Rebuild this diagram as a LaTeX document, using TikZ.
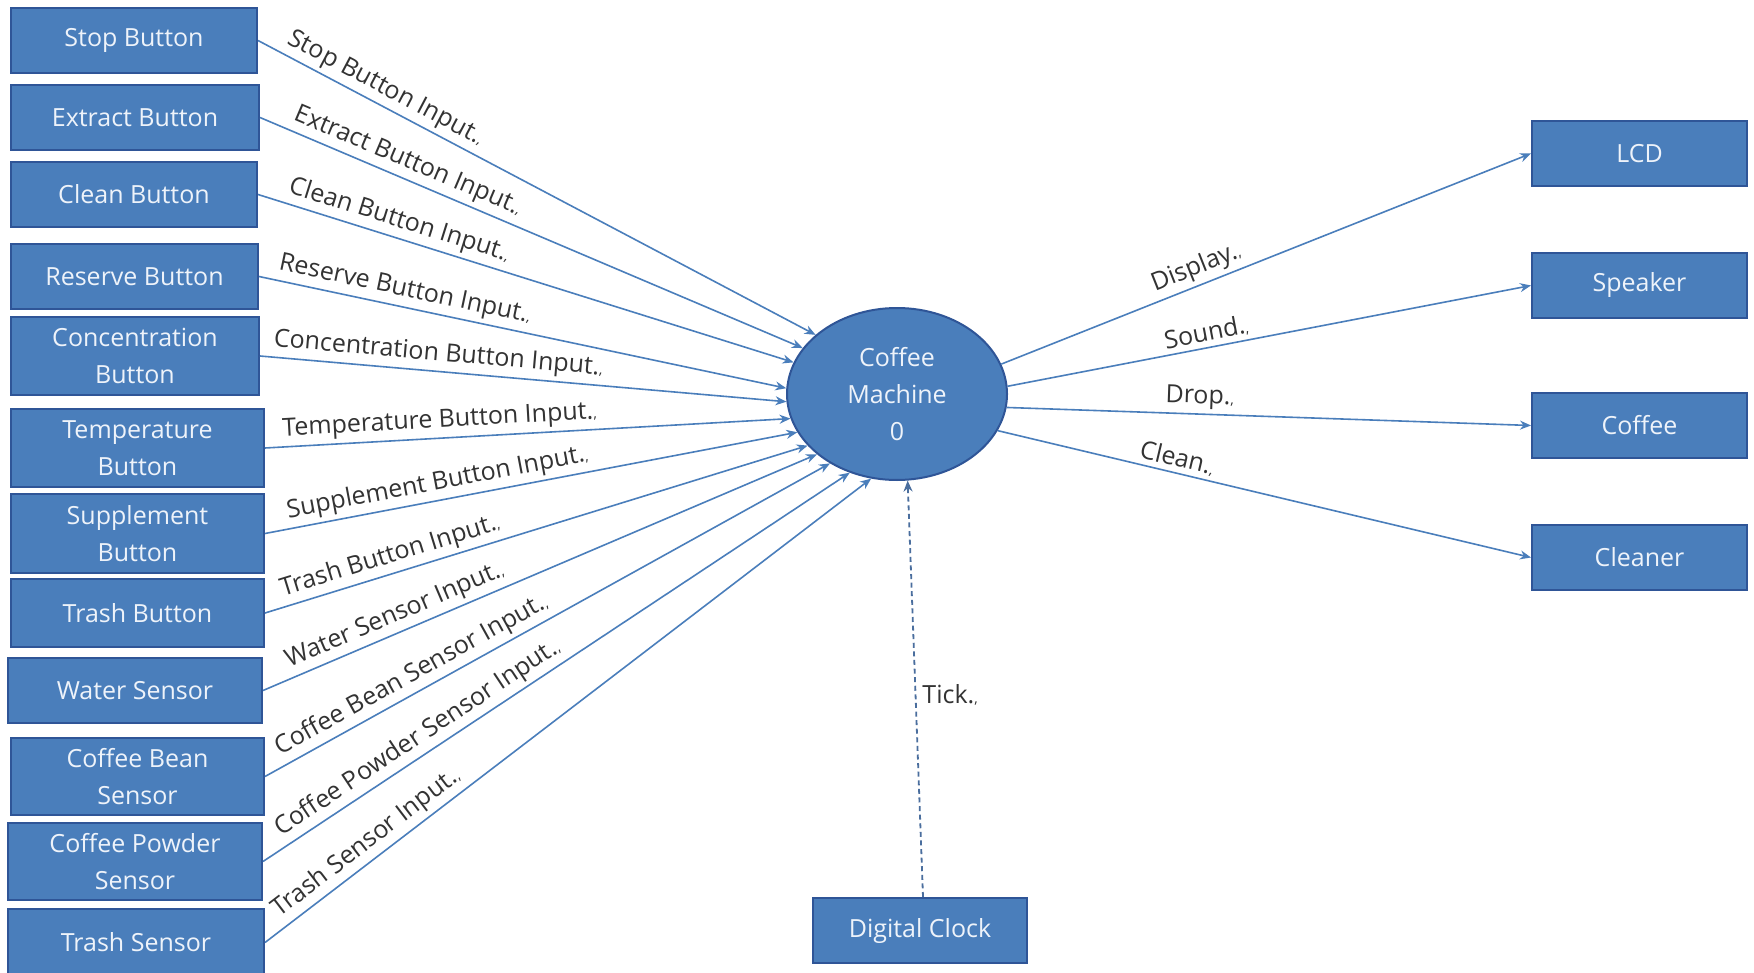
\documentclass[tikz,border=0pt]{standalone}
\usepackage{fontspec}
\setmainfont{Open Sans}
\usetikzlibrary{shapes.geometric, arrows.meta}
\definecolor{boxfill}{HTML}{4A7EBB}
\definecolor{boxline}{HTML}{2F5597}
\definecolor{flow}{HTML}{4A7EBB}
\definecolor{lbl}{HTML}{333333}
\definecolor{boxtext}{HTML}{EEF3FA}
\definecolor{tickline}{HTML}{4A6E9E}
\newcommand\pmk{{\fontsize{7}{7}\selectfont ,}}
\begin{document}
\begin{tikzpicture}[x=0.5pt, y=-0.5pt,
  ent/.style={draw=boxline, line width=1pt, fill=boxfill, text=boxtext, inner sep=0pt,
    align=center, font=\fontsize{12.5}{18.5}\selectfont},
  flowline/.style={draw=flow, line width=0.8pt, -{Stealth[length=5.5pt,width=4.5pt]}},
  flowlbl/.style={text=lbl, font=\fontsize{12.5}{15}\selectfont, inner sep=2pt},
]
\clip (0,0) rectangle (1754,973);
\fill[white] (0,0) rectangle (1754,973);

% left boxes
\node[ent, minimum width=123pt, minimum height=32.5pt] (stop) at (134,40.5) {Stop Button};
\node[ent, minimum width=124pt, minimum height=32.5pt] (extract) at (135,117.5) {Extract Button};
\node[ent, minimum width=123pt, minimum height=32.5pt] (clean) at (134,194.5) {Clean Button};
\node[ent, minimum width=123.5pt, minimum height=32.5pt] (reserve) at (134.5,276.5) {Reserve Button};
\node[ent, minimum width=124pt, minimum height=39pt] (conc) at (135,356) {Concentration\\Button};
\node[ent, minimum width=126.5pt, minimum height=39pt] (temp) at (137.5,448) {Temperature\\Button};
\node[ent, minimum width=126.5pt, minimum height=39.5pt] (supp) at (137.5,533.5) {Supplement\\Button};
\node[ent, minimum width=126.5pt, minimum height=34pt] (trashb) at (137.5,613) {Trash Button};
\node[ent, minimum width=127pt, minimum height=32.5pt] (water) at (135,690.5) {Water Sensor};
\node[ent, minimum width=126.5pt, minimum height=38.5pt] (bean) at (137.5,776.5) {Coffee Bean\\Sensor};
\node[ent, minimum width=127pt, minimum height=38.5pt] (powder) at (135,861.5) {Coffee Powder\\Sensor};
\node[ent, minimum width=128pt, minimum height=33.5pt] (trashs) at (136,942.5) {Trash Sensor};

% center process
\node[ent, ellipse, minimum width=110pt, minimum height=86pt] (cm) at (897,394) {Coffee\\Machine\\0};

% right boxes
\node[ent, minimum width=107.5pt, minimum height=32.5pt] (lcd) at (1639.5,153.5) {LCD};
\node[ent, minimum width=107.5pt, minimum height=32.5pt] (speaker) at (1639.5,285.5) {Speaker};
\node[ent, minimum width=107.5pt, minimum height=32.5pt] (coffee) at (1639.5,425.5) {Coffee};
\node[ent, minimum width=107.5pt, minimum height=32.5pt] (cleaner) at (1639.5,557.5) {Cleaner};

% clock
\node[ent, minimum width=107pt, minimum height=32.5pt] (clock) at (920,930.5) {Digital Clock};

% input flows
\draw[flowline] (stop.east) -- node[flowlbl, sloped, above, pos=0.215] {Stop Button Input.\pmk} (cm.144.3);
\draw[flowline] (extract.east) -- node[flowlbl, sloped, above, pos=0.26] {Extract Button Input.\pmk} (cm.154.8);
\draw[flowline] (clean.east) -- node[flowlbl, sloped, above, pos=0.254] {Clean Button Input.\pmk} (cm.163.6);
\draw[flowline] (reserve.east) -- node[flowlbl, sloped, above, pos=0.27] {Reserve Button Input.\pmk} (cm.177);
\draw[flowline] (conc.east) -- node[flowlbl, sloped, above, pos=0.336] {Concentration Button Input.\pmk} (cm.184);
\draw[flowline] (temp.east) -- node[flowlbl, sloped, above, pos=0.334] {Temperature Button Input.\pmk} (cm.193.7);
\draw[flowline] (supp.east) -- node[flowlbl, sloped, above, pos=0.33] {Supplement Button Input.\pmk} (cm.201.9);
\draw[flowline] (trashb.east) -- node[flowlbl, sloped, above, pos=0.24] {Trash Button Input.\pmk} (cm.210.4);
\draw[flowline] (water.east) -- node[flowlbl, sloped, above, pos=0.25] {Water Sensor Input.\pmk} (cm.217.8);
\draw[flowline] (bean.east) -- node[flowlbl, sloped, above, pos=0.275] {Coffee Bean Sensor Input.\pmk} (cm.226.5);
\draw[flowline] (powder.east) -- node[flowlbl, sloped, above, pos=0.28] {Coffee Powder Sensor Input.\pmk} (cm.239.4);
\draw[flowline] (trashs.east) -- node[flowlbl, sloped, above, pos=0.185] {Trash Sensor Input.\pmk} (cm.253.8);

% output flows
\draw[flowline] (cm.16.8) -- node[flowlbl, sloped, above, pos=0.38] {Display.\pmk} (lcd.west);
\draw[flowline] (cm.4.9) -- node[flowlbl, sloped, above, pos=0.385] {Sound.\pmk} (speaker.west);
\draw[flowline] (cm.-7.3) -- node[flowlbl, sloped, above, pos=0.367] {Drop.\pmk} (coffee.west);
\draw[flowline] (cm.-20.7) -- node[flowlbl, sloped, above, pos=0.33] {Clean.\pmk} (cleaner.west);

% tick
\draw[draw=tickline, line width=0.9pt, dash pattern=on 2.5pt off 1.8pt, -{Stealth[length=5.5pt,width=4.5pt]}]
  ([xshift=1.5pt]clock.north) -- node[flowlbl, right, pos=0.485, xshift=1pt] {Tick.\pmk} (cm.277.7);
\end{tikzpicture}
\end{document}
